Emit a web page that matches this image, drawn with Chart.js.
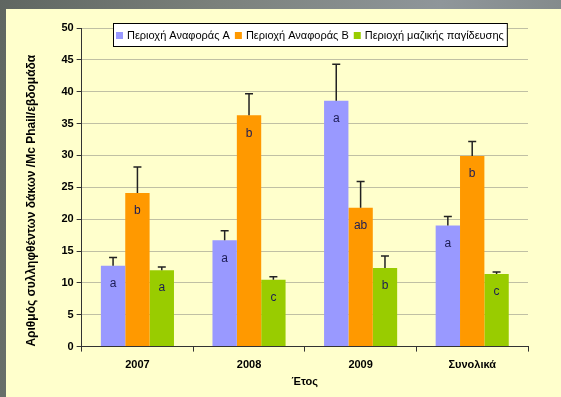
<!DOCTYPE html>
<html>
<head>
<meta charset="utf-8">
<script src="https://cdn.jsdelivr.net/npm/chart.js@4.4.1/dist/chart.umd.min.js"></script>
<style>
  html, body { margin:0; padding:0; width:561px; height:397px; overflow:hidden; }
  body { background: linear-gradient(100deg, #5f6661 0%, #7b817c 35%, #8f969a 70%, #7e8584 100%); }
  #wrap { position:absolute; left:6px; top:9px; width:555px; height:388px; background:#FFFFCC; }
  canvas { display:block; }
</style>
</head>
<body>
<div id="wrap"><canvas id="c" width="555" height="388"></canvas></div>
<script>
// ---- data ----
const categories = ['2007', '2008', '2009', 'Συνολικά'];
const seriesNames = ['Περιοχή Αναφοράς Α', 'Περιοχή Αναφοράς Β', 'Περιοχή μαζικής παγίδευσης'];
const refA = [12.7, 16.7, 38.6, 19.0];
const refB = [24.1, 36.3, 21.8, 29.9];
const massTrap = [12.0, 10.5, 12.35, 11.4];
const errA = [1.3, 1.5, 5.7, 1.4];
const errB = [4.1, 3.4, 4.1, 2.3];
const errMass = [0.5, 0.45, 1.85, 0.3];
const lettersA = ['a', 'a', 'a', 'a'];
const lettersB = ['b', 'b', 'ab', 'b'];
const lettersMass = ['a', 'c', 'b', 'c'];
const yMin = 0, yMax = 50, yStep = 5;
const yTitle = 'Αριθμός συλληφθέντων δάκων /Mc Phail/εβδομάδα';
const xTitle = 'Έτος';

const colors = ['#9999FF', '#FF9900', '#99CC00'];
const errs = [errA, errB, errMass];
const letters = [lettersA, lettersB, lettersMass];
const FONT = "'Liberation Sans', Arial, sans-serif";

const extrasPlugin = {
  id: 'extras',
  afterDatasetsDraw(chart) {
    const ctx = chart.ctx;
    const ys = chart.scales.y;
    ctx.save();
    chart.data.datasets.forEach((ds, di) => {
      const meta = chart.getDatasetMeta(di);
      meta.data.forEach((bar, i) => {
        const v = ds.data[i];
        const top = ys.getPixelForValue(v + errs[di][i]);
        // error bar
        ctx.strokeStyle = '#222222';
        ctx.lineWidth = 1.5;
        ctx.beginPath();
        ctx.moveTo(bar.x, bar.y);
        ctx.lineTo(bar.x, top);
        ctx.moveTo(bar.x - 4, top);
        ctx.lineTo(bar.x + 4, top);
        ctx.stroke();
        // letter
        ctx.fillStyle = '#1c1c55';
        ctx.font = '12px ' + FONT;
        ctx.textAlign = 'center';
        ctx.textBaseline = 'middle';
        ctx.fillText(letters[di][i], bar.x, bar.y + 18);
      });
    });
    ctx.restore();
  },
  afterDraw(chart) {
    // legend box
    const ctx = chart.ctx;
    ctx.save();
    ctx.font = '11px ' + FONT;
    const mk = 7, gapMk = 4, gapItem = 5, padX = 3;
    const widths = chart.data.datasets.map(d => ctx.measureText(d.label).width);
    let total = padX * 2;
    widths.forEach((w, i) => { total += mk + gapMk + w + (i < widths.length - 1 ? gapItem : 0); });
    const cx = 304, top = 14, h = 23;
    const left = Math.round(cx - total / 2);
    ctx.fillStyle = '#FFFFFF';
    ctx.fillRect(left, top, total, h);
    ctx.strokeStyle = '#000000';
    ctx.lineWidth = 1;
    ctx.strokeRect(left + 0.5, top + 0.5, total, h);
    let x = left + padX;
    const cy = top + h / 2 + 1;
    chart.data.datasets.forEach((d, i) => {
      ctx.fillStyle = d.backgroundColor;
      ctx.fillRect(x, cy - mk / 2, mk, mk);
      x += mk + gapMk;
      ctx.fillStyle = '#000000';
      ctx.textBaseline = 'middle';
      ctx.textAlign = 'left';
      ctx.fillText(d.label, x, cy);
      x += widths[i] + gapItem;
    });
    ctx.restore();
  }
};

new Chart(document.getElementById('c'), {
  type: 'bar',
  data: {
    labels: categories,
    datasets: [
      { label: seriesNames[0], data: refA, backgroundColor: colors[0] },
      { label: seriesNames[1], data: refB, backgroundColor: colors[1] },
      { label: seriesNames[2], data: massTrap, backgroundColor: colors[2] }
    ]
  },
  options: {
    responsive: false,
    animation: false,
    devicePixelRatio: 1,
    categoryPercentage: 0.655,
    barPercentage: 1.0,
    layout: { padding: { left: 18, right: 33, top: 19, bottom: 8 } },
    plugins: { legend: { display: false }, tooltip: { enabled: false } },
    scales: {
      x: {
        grid: { display: true, drawOnChartArea: false, drawTicks: true, offset: true, tickLength: 5, color: '#333333' },
        border: { display: true, color: '#333333', width: 1 },
        ticks: { color: '#000000', font: { family: FONT, size: 11, weight: 'bold' }, padding: 7 },
        title: { display: true, text: xTitle, color: '#000000', font: { family: FONT, size: 11, weight: 'bold' }, padding: { top: -3, bottom: 0 } }
      },
      y: {
        min: yMin, max: yMax,
        grid: { color: '#C0C0A4', tickColor: '#333333', tickLength: 5, drawTicks: true },
        border: { display: true, color: '#333333', width: 1 },
        ticks: { stepSize: yStep, color: '#000000', font: { family: FONT, size: 11, weight: 'bold' }, padding: 3 },
        title: { display: true, text: yTitle, align: 'start', color: '#000000', font: { family: FONT, size: 12, weight: 'bold' }, padding: { top: 0, bottom: 20 } }
      }
    }
  },
  plugins: [extrasPlugin]
});
</script>
</body>
</html>
